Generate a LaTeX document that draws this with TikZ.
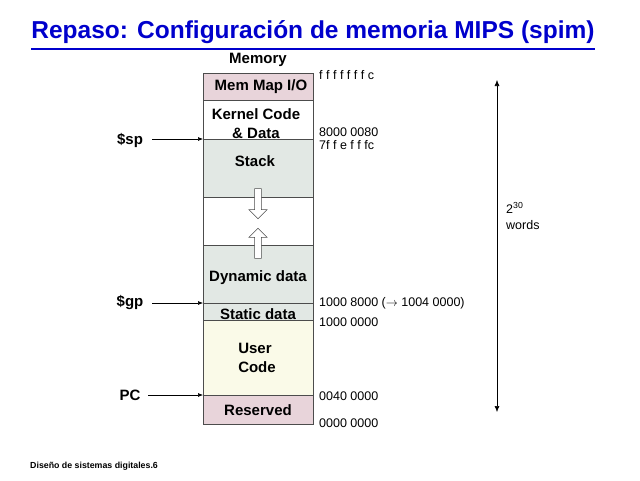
\documentclass[tikz,border=0pt]{standalone}
\usepackage{fontspec}
\setmainfont{Liberation Sans}
\usetikzlibrary{arrows.meta,shapes.arrows}
\definecolor{ttl}{RGB}{0,0,204}
\definecolor{pinkf}{RGB}{232,212,218}
\definecolor{grayf}{RGB}{226,232,228}
\definecolor{yelf}{RGB}{250,250,232}
\begin{document}
\begin{tikzpicture}[x=1pt,y=-1pt,
  seg/.style={draw=black!70,line width=0.6pt},
  lbl/.style={font=\bfseries\fontsize{15}{17}\selectfont,inner sep=0pt},
  addr/.style={font=\fontsize{12.5}{14}\selectfont,anchor=west,inner sep=0pt},
  ptr/.style={-{Latex[length=5pt,width=4pt]},line width=0.6pt},
  hol/.style={draw=black!70,fill=white,single arrow,minimum height=30pt,minimum width=18pt,single arrow head extend=3pt,inner sep=1.5pt,line width=0.6pt}]
\useasboundingbox (0,0) rectangle (640,480);
\node[font=\bfseries\fontsize{24.5}{28}\selectfont,text=ttl,inner sep=0pt] (title) at (313,32) {Repaso: Configuración de memoria MIPS (spim)};
\draw[ttl,line width=1.5pt] ([yshift=-5pt]title.south west) -- ([yshift=-5pt]title.south east);
\fill[pinkf,seg] (203,73) rectangle (313,100);
\fill[white,seg] (203,100) rectangle (313,139);
\fill[grayf,seg] (203,139) rectangle (313,197);
\fill[white,seg] (203,197) rectangle (313,245);
\fill[grayf,seg] (203,245) rectangle (313,303);
\fill[grayf,seg] (203,303) rectangle (313,320);
\fill[yelf,seg] (203,320) rectangle (313,395);
\fill[pinkf,seg] (203,395) rectangle (313,424);
\node[lbl] (mem) at (258,60) {Memory};
\node[lbl] (mmio) at (261,87) {Mem Map I/O};
\node[lbl] (k1) at (256,114) {Kernel Code};
\node[lbl] (k2) at (256,133) {\& Data};
\node[lbl] (stk) at (255,161) {Stack};
\node[lbl] (dyn) at (258,278) {Dynamic data};
\node[lbl] (sta) at (258,314) {Static data};
\node[lbl] (uc1) at (255,348) {User};
\node[lbl] (uc2) at (257,367) {Code};
\node[lbl] (res) at (258,410) {Reserved};
\node[hol,shape border rotate=270] (down) at (258,202) {};
\node[hol,shape border rotate=90] (up) at (258,245) {};
\node[lbl] (sp) at (130,140) {\$sp};
\node[lbl] (gp) at (130,303) {\$gp};
\node[lbl] (pc) at (130,395) {PC};
\coordinate (spt) at (203,139);
\coordinate (gpt) at (203,303);
\coordinate (pct) at (203,395);
\draw[ptr] (152,139) -- (spt);
\draw[ptr] (152,303) -- (gpt);
\draw[ptr] (148,395) -- (pct);
\node[addr] (a1) at (319,75) {f f f f f f f c};
\node[addr] (a2) at (319,132) {8000 0080};
\node[addr] (a3) at (319,145.5) {7f f e f f fc};
\node[addr] (a4) at (319,303) {1000 8000 ($\rightarrow$ 1004 0000)};
\node[addr] (a5) at (319,322) {1000 0000};
\node[addr] (a6) at (319,396) {0040 0000};
\node[addr] (a7) at (319,423) {0000 0000};
\coordinate (rt) at (497,80);
\coordinate (rb) at (497,412);
\draw[{Latex[length=6pt,width=5pt]}-{Latex[length=6pt,width=5pt]},line width=0.6pt] (rt) -- (rb);
\node[addr] (w1) at (506,208) {2\textsuperscript{30}};
\node[addr] (w2) at (506,225) {words};
\node[anchor=west,inner sep=0pt,font=\bfseries\fontsize{8.8}{10}\selectfont] (foot) at (30,466) {Diseño de sistemas digitales.6};
\end{tikzpicture}
\end{document}
